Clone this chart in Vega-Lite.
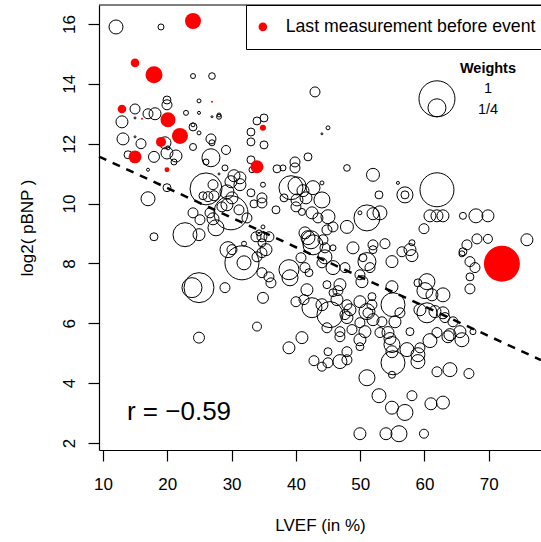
{
"$schema": "https://vega.github.io/schema/vega-lite/v6.json",
"width": 442, "height": 445,
"autosize": "none",
"padding": {"left": 99, "top": 5, "right": 0, "bottom": 92},
"background": "white",
"config": {
 "view": {"stroke": null},
 "font": "Liberation Sans",
 "axis": {"grid": false, "domainColor": "#000", "domainWidth": 1.2, "tickColor": "#000", "tickWidth": 1.2, "tickSize": 11, "labelFontSize": 17, "labelColor": "#000", "titleFontSize": 17, "titleColor": "#000", "titleFontWeight": "normal", "labelFont": "Liberation Sans", "titleFont": "Liberation Sans", "labelOverlap": false}
},
"datasets": {
"open": [
{"x":12.02,"y":15.90,"w":0.151},{"x":19.02,"y":15.90,"w":0.028},{"x":24.0,"y":14.26,"w":0.019},{"x":26.95,"y":14.26,"w":0.034},{"x":42.97,"y":13.73,"w":0.077},{"x":24.93,"y":13.43,"w":0.012},{"x":19.95,"y":13.46,"w":0.049},{"x":19.95,"y":13.30,"w":0.077},{"x":14.98,"y":13.16,"w":0.077},{"x":12.95,"y":12.73,"w":0.111},{"x":14.98,"y":12.86,"w":0.003},{"x":17.0,"y":13.0,"w":0.077},{"x":18.09,"y":13.0,"w":0.111},{"x":22.91,"y":13.03,"w":0.019},{"x":24.93,"y":13.03,"w":0.007},{"x":26.95,"y":12.90,"w":0.003},{"x":28.04,"y":12.90,"w":0.019},{"x":28.04,"y":12.96,"w":0.012},{"x":24.0,"y":12.56,"w":0.049},{"x":24.0,"y":12.63,"w":0.012},{"x":24.93,"y":12.36,"w":0.012},{"x":13.11,"y":12.16,"w":0.111},{"x":14.98,"y":12.23,"w":0.003},{"x":15.91,"y":12.0,"w":0.077},{"x":17.93,"y":11.56,"w":0.093},{"x":13.89,"y":11.63,"w":0.049},{"x":19.64,"y":12.03,"w":0.111},{"x":19.95,"y":11.69,"w":0.111},{"x":21.35,"y":11.59,"w":0.111},{"x":21.04,"y":11.39,"w":0.028},{"x":20.11,"y":11.86,"w":0.012},{"x":24.0,"y":11.89,"w":0.038},{"x":26.79,"y":12.16,"w":0.077},{"x":26.95,"y":12.03,"w":0.028},{"x":29.13,"y":11.79,"w":0.0625},{"x":26.02,"y":11.39,"w":0.028},{"x":17.0,"y":11.13,"w":0.007},{"x":28.97,"y":11.19,"w":0.028},{"x":28.04,"y":10.99,"w":0.003},{"x":30.37,"y":10.93,"w":0.111},{"x":31.30,"y":10.86,"w":0.111},{"x":26.79,"y":11.53,"w":0.25},{"x":33.95,"y":12.76,"w":0.049},{"x":35.04,"y":12.86,"w":0.049},{"x":33.01,"y":12.39,"w":0.049},{"x":33.01,"y":12.06,"w":0.049},{"x":33.01,"y":11.46,"w":0.049},{"x":35.04,"y":11.96,"w":0.049},{"x":33.17,"y":11.13,"w":0.028},{"x":34.88,"y":10.63,"w":0.019},{"x":44.99,"y":12.53,"w":0.012},{"x":44.05,"y":12.33,"w":0.003},{"x":39.86,"y":11.39,"w":0.077},{"x":39.86,"y":11.19,"w":0.077},{"x":41.88,"y":11.56,"w":0.049},{"x":37.06,"y":11.16,"w":0.049},{"x":37.99,"y":11.19,"w":0.028},{"x":47.94,"y":11.19,"w":0.034},{"x":51.99,"y":10.96,"w":0.13},{"x":44.05,"y":10.69,"w":0.012},{"x":55.87,"y":10.69,"w":0.007},{"x":56.96,"y":10.29,"w":0.198},{"x":56.96,"y":10.29,"w":0.049},{"x":61.94,"y":10.46,"w":0.892},{"x":52.92,"y":10.29,"w":0.049},{"x":17.0,"y":10.16,"w":0.151},{"x":19.95,"y":10.53,"w":0.049},{"x":26.02,"y":10.49,"w":0.79},{"x":25.55,"y":10.26,"w":0.049},{"x":26.33,"y":10.23,"w":0.077},{"x":27.26,"y":10.26,"w":0.077},{"x":27.11,"y":10.63,"w":0.077},{"x":29.90,"y":10.73,"w":0.111},{"x":29.28,"y":10.39,"w":0.151},{"x":28.50,"y":9.89,"w":0.077},{"x":29.90,"y":9.69,"w":0.892},{"x":24.0,"y":9.69,"w":0.077},{"x":25.08,"y":9.46,"w":0.077},{"x":26.64,"y":9.69,"w":0.077},{"x":27.11,"y":9.49,"w":0.111},{"x":32.39,"y":9.52,"w":0.077},{"x":30.06,"y":10.19,"w":0.111},{"x":29.28,"y":9.96,"w":0.111},{"x":31.15,"y":9.79,"w":0.077},{"x":33.48,"y":9.99,"w":0.049},{"x":34.72,"y":10.02,"w":0.077},{"x":33.01,"y":10.36,"w":0.049},{"x":34.72,"y":10.19,"w":0.077},{"x":36.90,"y":9.79,"w":0.049},{"x":34.88,"y":9.22,"w":0.012},{"x":17.93,"y":8.89,"w":0.049},{"x":22.75,"y":8.96,"w":0.444},{"x":24.93,"y":8.96,"w":0.111},{"x":27.57,"y":9.19,"w":0.198},{"x":29.44,"y":8.46,"w":0.198},{"x":30.06,"y":8.46,"w":0.077},{"x":31.61,"y":8.02,"w":0.892},{"x":31.93,"y":8.02,"w":0.151},{"x":31.93,"y":8.66,"w":0.019},{"x":33.95,"y":8.22,"w":0.077},{"x":34.72,"y":8.36,"w":0.077},{"x":35.35,"y":8.46,"w":0.111},{"x":34.72,"y":8.69,"w":0.049},{"x":33.79,"y":8.89,"w":0.077},{"x":34.72,"y":8.89,"w":0.077},{"x":35.81,"y":8.89,"w":0.077},{"x":34.26,"y":9.02,"w":0.028},{"x":34.72,"y":7.69,"w":0.077},{"x":35.81,"y":7.55,"w":0.077},{"x":36.12,"y":7.35,"w":0.077},{"x":34.88,"y":6.85,"w":0.093},{"x":33.95,"y":5.89,"w":0.0625},{"x":23.84,"y":7.19,"w":0.309},{"x":24.93,"y":7.19,"w":0.694},{"x":28.97,"y":7.19,"w":0.077},{"x":24.93,"y":5.52,"w":0.093},{"x":39.23,"y":10.53,"w":0.444},{"x":40.17,"y":10.59,"w":0.25},{"x":41.10,"y":10.43,"w":0.111},{"x":42.66,"y":10.53,"w":0.151},{"x":44.05,"y":10.12,"w":0.198},{"x":40.17,"y":10.12,"w":0.111},{"x":41.57,"y":10.19,"w":0.111},{"x":38.15,"y":10.19,"w":0.049},{"x":40.01,"y":9.89,"w":0.077},{"x":40.94,"y":9.72,"w":0.038},{"x":42.50,"y":9.69,"w":0.111},{"x":43.43,"y":9.52,"w":0.077},{"x":44.99,"y":9.56,"w":0.151},{"x":45.77,"y":9.22,"w":0.077},{"x":47.94,"y":9.22,"w":0.13},{"x":42.34,"y":8.79,"w":0.25},{"x":42.66,"y":8.62,"w":0.309},{"x":38.92,"y":7.79,"w":0.309},{"x":39.08,"y":7.52,"w":0.198},{"x":40.79,"y":8.19,"w":0.077},{"x":41.41,"y":7.86,"w":0.077},{"x":42.03,"y":7.69,"w":0.049},{"x":41.72,"y":7.12,"w":0.111},{"x":40.01,"y":6.72,"w":0.077},{"x":41.26,"y":6.79,"w":0.077},{"x":42.50,"y":6.52,"w":0.309},{"x":40.94,"y":5.52,"w":0.111},{"x":38.92,"y":5.18,"w":0.111},{"x":42.81,"y":4.75,"w":0.077},{"x":51.05,"y":9.52,"w":0.522},{"x":51.99,"y":9.66,"w":0.111},{"x":53.07,"y":9.69,"w":0.151},{"x":49.96,"y":9.69,"w":0.012},{"x":60.85,"y":9.59,"w":0.111},{"x":61.94,"y":9.59,"w":0.111},{"x":62.87,"y":9.59,"w":0.111},{"x":65.98,"y":9.59,"w":0.038},{"x":68.0,"y":9.59,"w":0.151},{"x":69.87,"y":9.59,"w":0.111},{"x":59.92,"y":9.16,"w":0.077},{"x":66.60,"y":8.62,"w":0.077},{"x":68.16,"y":8.82,"w":0.077},{"x":69.87,"y":8.82,"w":0.0625},{"x":75.93,"y":8.79,"w":0.111},{"x":65.98,"y":8.39,"w":0.049},{"x":65.82,"y":8.32,"w":0.028},{"x":67.07,"y":8.06,"w":0.077},{"x":67.85,"y":7.86,"w":0.077},{"x":67.07,"y":7.55,"w":0.049},{"x":67.07,"y":7.15,"w":0.077},{"x":48.88,"y":8.52,"w":0.111},{"x":51.99,"y":8.62,"w":0.077},{"x":51.99,"y":8.46,"w":0.049},{"x":53.85,"y":8.66,"w":0.077},{"x":56.49,"y":8.39,"w":0.077},{"x":57.74,"y":8.46,"w":0.111},{"x":58.05,"y":8.26,"w":0.111},{"x":58.05,"y":8.69,"w":0.028},{"x":54.94,"y":8.06,"w":0.111},{"x":51.05,"y":8.06,"w":0.25},{"x":50.43,"y":8.19,"w":0.049},{"x":51.52,"y":7.86,"w":0.077},{"x":45.77,"y":8.52,"w":0.028},{"x":44.83,"y":9.12,"w":0.077},{"x":44.21,"y":8.79,"w":0.077},{"x":44.52,"y":8.22,"w":0.151},{"x":45.77,"y":7.86,"w":0.151},{"x":44.05,"y":8.02,"w":0.077},{"x":47.63,"y":7.86,"w":0.077},{"x":49.96,"y":7.62,"w":0.077},{"x":50.27,"y":7.39,"w":0.111},{"x":54.94,"y":7.22,"w":0.111},{"x":46.85,"y":7.29,"w":0.111},{"x":46.54,"y":7.09,"w":0.077},{"x":45.77,"y":7.02,"w":0.049},{"x":44.83,"y":7.29,"w":0.049},{"x":51.83,"y":6.89,"w":0.049},{"x":60.38,"y":7.39,"w":0.198},{"x":60.07,"y":7.09,"w":0.198},{"x":61.16,"y":6.95,"w":0.111},{"x":62.87,"y":6.95,"w":0.151},{"x":58.98,"y":7.35,"w":0.049},{"x":60.38,"y":6.35,"w":0.309},{"x":61.63,"y":6.39,"w":0.111},{"x":62.87,"y":6.35,"w":0.111},{"x":63.18,"y":6.19,"w":0.077},{"x":59.29,"y":6.45,"w":0.111},{"x":64.43,"y":6.05,"w":0.077},{"x":65.51,"y":5.72,"w":0.111},{"x":63.96,"y":5.62,"w":0.111},{"x":67.54,"y":5.72,"w":0.028},{"x":55.10,"y":6.62,"w":0.444},{"x":56.18,"y":6.35,"w":0.077},{"x":51.83,"y":6.62,"w":0.077},{"x":51.05,"y":6.39,"w":0.198},{"x":48.41,"y":6.45,"w":0.111},{"x":47.63,"y":6.29,"w":0.077},{"x":47.94,"y":6.62,"w":0.077},{"x":45.30,"y":6.29,"w":0.522},{"x":44.05,"y":6.62,"w":0.111},{"x":53.38,"y":6.05,"w":0.077},{"x":55.41,"y":6.05,"w":0.111},{"x":57.74,"y":5.72,"w":0.049},{"x":53.07,"y":5.69,"w":0.077},{"x":54.32,"y":5.69,"w":0.111},{"x":54.63,"y":5.49,"w":0.111},{"x":50.74,"y":5.72,"w":0.111},{"x":46.85,"y":5.72,"w":0.077},{"x":44.83,"y":5.85,"w":0.077},{"x":49.96,"y":6.72,"w":0.111},{"x":47.94,"y":6.19,"w":0.111},{"x":48.72,"y":5.79,"w":0.077},{"x":49.96,"y":6.02,"w":0.077},{"x":51.99,"y":6.12,"w":0.111},{"x":51.21,"y":6.35,"w":0.077},{"x":46.39,"y":6.79,"w":0.111},{"x":60.85,"y":5.42,"w":0.151},{"x":61.94,"y":5.69,"w":0.077},{"x":63.65,"y":5.55,"w":0.111},{"x":65.82,"y":5.45,"w":0.151},{"x":41.41,"y":9.02,"w":0.111},{"x":41.88,"y":8.86,"w":0.151},{"x":44.52,"y":8.52,"w":0.077},{"x":44.05,"y":4.55,"w":0.0625},{"x":44.99,"y":4.68,"w":0.077},{"x":44.99,"y":5.05,"w":0.049},{"x":46.85,"y":4.72,"w":0.151},{"x":47.94,"y":5.05,"w":0.077},{"x":47.94,"y":4.78,"w":0.077},{"x":49.96,"y":5.22,"w":0.049},{"x":49.96,"y":5.45,"w":0.111},{"x":46.85,"y":5.55,"w":0.077},{"x":54.94,"y":5.29,"w":0.198},{"x":54.94,"y":5.05,"w":0.111},{"x":55.10,"y":4.68,"w":0.444},{"x":54.94,"y":4.28,"w":0.038},{"x":57.27,"y":5.12,"w":0.151},{"x":58.98,"y":4.95,"w":0.151},{"x":58.98,"y":4.72,"w":0.151},{"x":59.29,"y":5.18,"w":0.077},{"x":51.05,"y":4.18,"w":0.198},{"x":61.94,"y":4.38,"w":0.077},{"x":63.96,"y":4.45,"w":0.151},{"x":66.91,"y":4.32,"w":0.077},{"x":52.92,"y":3.58,"w":0.151},{"x":58.05,"y":3.58,"w":0.077},{"x":54.94,"y":3.18,"w":0.13},{"x":56.96,"y":3.02,"w":0.198},{"x":61.0,"y":3.31,"w":0.111},{"x":62.87,"y":3.35,"w":0.13},{"x":49.96,"y":2.31,"w":0.111},{"x":54.01,"y":2.31,"w":0.111},{"x":56.03,"y":2.31,"w":0.198},{"x":59.92,"y":2.31,"w":0.0625},{"x":31.30,"y":10.63,"w":0.111}
],
"event": [
{"x":24.0,"y":16.10,"w":0.198},{"x":14.98,"y":14.70,"w":0.057},{"x":17.93,"y":14.30,"w":0.223},{"x":12.95,"y":13.16,"w":0.057},{"x":20.11,"y":12.80,"w":0.174},{"x":21.97,"y":12.26,"w":0.198},{"x":19.02,"y":12.06,"w":0.077},{"x":14.98,"y":11.56,"w":0.13},{"x":19.95,"y":11.13,"w":0.019},{"x":34.88,"y":12.53,"w":0.028},{"x":33.95,"y":11.23,"w":0.13},{"x":72.04,"y":7.99,"w":1.0},{"x":26.95,"y":13.40,"w":0.003},{"x":16.06,"y":12.83,"w":0.003}
],
"fit": [{"x":9.378,"y":11.57},{"x":78.12,"y":4.77}],
"key": [{"x":61.94,"y":13.50,"w":1},{"x":61.94,"y":13.20,"w":0.25}],
"keyTitle": [{"x":69.87,"y":14.48,"label":"Weights"}],
"keyLabels": [{"x":69.87,"y":13.83,"label":"1"},{"x":69.87,"y":13.13,"label":"1/4"}],
"note": [{"x":13.73,"y":2.78,"label":"r = −0.59"}],
"frame": [{"x":9.378,"x2":78.12,"y":16.634}]
},
"encoding": {
 "x": {"field": "x", "type": "quantitative", "scale": {"domain": [9.378, 78.12], "nice": false, "zero": false},
  "axis": {"values": [10,20,30,40,50,60,70], "labelPadding": 15, "labelFlush": false, "title": "LVEF (in %)", "titleY": 80, "titleBaseline": "alphabetic"}},
 "y": {"field": "y", "type": "quantitative", "scale": {"domain": [1.766, 16.634], "nice": false, "zero": false},
  "axis": {"values": [2,4,6,8,10,12,14,16], "labelAngle": -90, "labelAlign": "center", "labelBaseline": "alphabetic", "labelPadding": 14, "title": "log2( pBNP )", "titleX": -67, "titleBaseline": "alphabetic", "titleAngle": -90}}
},
"layer": [
 {"data": {"name": "open"}, "mark": {"type": "point", "shape": "circle", "filled": false, "color": "#000", "strokeWidth": 1, "opacity": 1},
  "encoding": {"size": {"field": "w", "type": "quantitative", "scale": {"domain": [0, 1], "range": [0, 1296], "zero": true}, "legend": null}}},
 {"data": {"name": "event"}, "mark": {"type": "circle", "opacity": 1},
  "encoding": {"size": {"field": "w", "type": "quantitative", "legend": null},
   "color": {"datum": "Last measurement before event", "type": "nominal", "scale": {"range": ["#FF0000"]},
    "legend": {"title": null, "orient": "none", "legendX": 147, "legendY": 0, "padding": 13, "strokeColor": "#000", "symbolSize": 74, "symbolType": "circle", "symbolStrokeWidth": 0, "symbolOpacity": 1, "symbolOffset": -5, "labelFontSize": 17.7, "labelOffset": 14, "labelColor": "#000", "labelFont": "Liberation Sans", "labelLimit": 400}}}},
 {"data": {"name": "fit"}, "mark": {"type": "line", "color": "#000", "strokeWidth": 2.5, "strokeDash": [8, 7]}, "encoding": {}},
 {"data": {"name": "key"}, "mark": {"type": "point", "shape": "circle", "filled": false, "color": "#000", "strokeWidth": 1, "opacity": 1},
  "encoding": {"size": {"field": "w", "type": "quantitative", "legend": null}}},
 {"data": {"name": "keyTitle"}, "mark": {"type": "text", "fontSize": 14.5, "fontWeight": "bold", "align": "center", "baseline": "middle", "color": "#000"},
  "encoding": {"text": {"field": "label"}}},
 {"data": {"name": "keyLabels"}, "mark": {"type": "text", "fontSize": 14.5, "align": "center", "baseline": "middle", "color": "#000"},
  "encoding": {"text": {"field": "label"}}},
 {"data": {"name": "note"}, "mark": {"type": "text", "fontSize": 26, "align": "left", "baseline": "alphabetic", "color": "#000"},
  "encoding": {"text": {"field": "label"}}},
 {"data": {"name": "frame"}, "mark": {"type": "rule", "color": "#000", "strokeWidth": 1.2},
  "encoding": {"x2": {"field": "x2"}}}
]
}
